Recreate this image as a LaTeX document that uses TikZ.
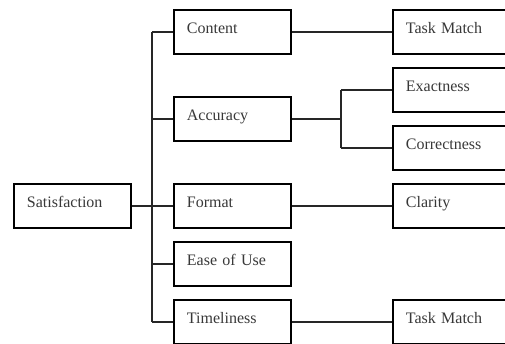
\documentclass[tikz,border=0pt]{standalone}
\usepackage{fontspec}
\setmainfont{Liberation Serif}
\usepackage{xcolor}

\begin{document}
\begin{tikzpicture}[x=1pt,y=-1pt]
        \tikzset{box/.style={draw,line width=1.8pt,rectangle,anchor=west,
                text width=91pt,inner xsep=13pt,inner ysep=0pt,
                text height=23pt,text depth=21pt,align=left,
                font=\fontsize{16}{19}\selectfont,text=black!78},
            link/.style={draw,line width=1.3pt,black!85}}
        \useasboundingbox (0,0) rectangle (505,343);
        \clip (0,0) rectangle (505,343);
        \node[box] (sat) at (13,206) {Satisfaction};
        \node[box] (content) at (173,32) {Content};
        \node[box] (acc) at (173,119) {Accuracy};
        \node[box] (format) at (173,206) {Format};
        \node[box] (ease) at (173,264) {Ease of Use};
        \node[box] (time) at (173,322) {Timeliness};
        \node[box] (task1) at (392,32) {Task Match};
        \node[box] (exact) at (392,90) {Exactness};
        \node[box] (corr) at (392,148) {Correctness};
        \node[box] (clar) at (392,206) {Clarity};
        \node[box] (task2) at (392,322) {Task Match};
        \coordinate (trunk) at (152,206);
        \coordinate (split) at (341,119);
        % trunk to the first level
        \path[link] (sat.east) -- (trunk);
        \path[link] (trunk |- content.west) -- (trunk |- time.west);
        \foreach \n in {content,acc,format,ease,time}
            \path[link] (trunk |- \n.west) -- (\n.west);
        % second level
        \path[link] (content.east) -- (task1.west);
        \path[link] (format.east) -- (clar.west);
        \path[link] (time.east) -- (task2.west);
        \path[link] (acc.east) -- (split);
        \path[link] (split |- exact.west) -- (split |- corr.west);
        \path[link] (split |- exact.west) -- (exact.west);
        \path[link] (split |- corr.west) -- (corr.west);
    \end{tikzpicture}
\end{document}
